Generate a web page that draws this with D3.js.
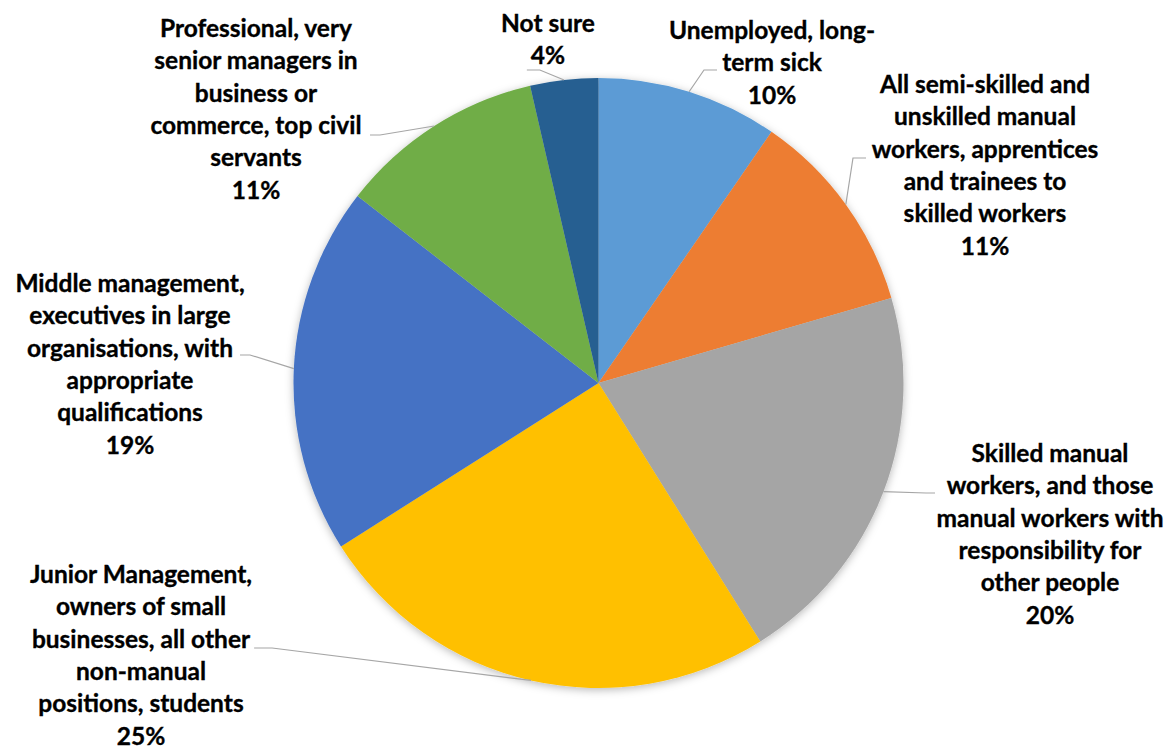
<!DOCTYPE html>
<html>
<head>
<meta charset="utf-8">
<script src="https://cdn.jsdelivr.net/npm/d3@7"></script>
<style>
  html, body { margin: 0; padding: 0; background: #fff; }
  svg { display: block; }
  .lbl { font-family: Lato, "Open Sans", sans-serif; font-weight: bold; fill: #000; stroke: #000; stroke-width: 0.35px; }
</style>
</head>
<body>
<script>
var width = 1175;
var height = 749;

// slices, clockwise from 12 o'clock
var categories = [
  ['Unemployed, long-', 'term sick'],
  ['All semi-skilled and', 'unskilled manual', 'workers, apprentices', 'and trainees to', 'skilled workers'],
  ['Skilled manual', 'workers, and those', 'manual workers with', 'responsibility for', 'other people'],
  ['Junior Management,', 'owners of small', 'businesses, all other', 'non-manual', 'positions, students'],
  ['Middle management,', 'executives in large', 'organisations, with', 'appropriate', 'qualifications'],
  ['Professional, very', 'senior managers in', 'business or', 'commerce, top civil', 'servants'],
  ['Not sure']
];
var values = [9.6, 10.9, 20.6, 24.9, 19.5, 10.9, 3.6];
var percentLabels = ['10%', '11%', '20%', '25%', '19%', '11%', '4%'];
var colors = ['#5B9BD5', '#ED7D31', '#A5A5A5', '#FFC000', '#4472C4', '#70AD47', '#255E91'];

// label placement: centre x, first baseline, leader end [x, y], elbow x, line the leader meets
var labelLayout = [
  {x: 772, y: 39,  end: [717, 70],  elbow: 704, line: 1},
  {x: 985, y: 93,  end: [866, 158], elbow: 853, line: 2},
  {x: 1050, y: 462, end: [935, 493], elbow: 926, line: 1},
  {x: 141, y: 583, end: [252, 648], elbow: 270, line: 2},
  {x: 130, y: 292, end: [240, 355], elbow: 250, line: 2},
  {x: 256, y: 37,  end: [370, 135], elbow: 380, line: 3},
  {x: 548, y: 32,  end: [534, 70],  elbow: 547, line: 1}
];

var cx = 598.5, cy = 383, radius = 305;
var lineGap = 32.3;

var svg = d3.select('body').append('svg')
            .attr('width', width)
            .attr('height', height);

var defs = svg.append('defs');
var f = defs.append('filter').attr('id', 'shadow')
            .attr('x', '-10%').attr('y', '-10%')
            .attr('width', '120%').attr('height', '120%');
f.append('feDropShadow')
 .attr('dx', 0).attr('dy', 2)
 .attr('stdDeviation', 4)
 .attr('flood-color', '#000')
 .attr('flood-opacity', 0.28);

var pie = d3.pie().sort(null).value(d => d);
var arcs = pie(values);
var arc = d3.arc().innerRadius(0).outerRadius(radius);

var g = svg.append('g').attr('transform', `translate(${cx},${cy})`);

g.append('g').attr('filter', 'url(#shadow)')
 .selectAll('path').data(arcs)
 .enter().append('path')
   .attr('d', arc)
   .attr('fill', (d, i) => colors[i]);

var leaders = svg.append('g').attr('class', 'leaders');
var labels = svg.append('g');

arcs.forEach(function(d, i) {
  var L = labelLayout[i];
  var lines = categories[i].concat([percentLabels[i]]);
  var t = labels.append('text')
    .attr('class', 'lbl')
    .attr('text-anchor', 'middle')
    .attr('font-size', 24.5);
  var spans = [];
  lines.forEach(function(s, k) {
    spans.push(t.append('tspan')
     .attr('x', L.x)
     .attr('y', L.y + k * lineGap)
     .text(s));
  });

  // keep the leader clear of the text line it points at
  var w = spans[L.line].node().getComputedTextLength();
  var ex = L.end[0];
  var ox = L.elbow;
  if (ex < L.x) {            // label on the right of the leader
    var lim = L.x - w / 2 - 4;
    if (ex > lim) { ox -= ex - lim; ex = lim; }
  } else {
    var lim2 = L.x + w / 2 + 4;
    if (ex < lim2) { ox += lim2 - ex; ex = lim2; }
  }

  // leader from the arc mid-point out to the label
  var mid = (d.startAngle + d.endAngle) / 2;
  var px = cx + radius * Math.sin(mid);
  var py = cy - radius * Math.cos(mid);
  leaders.append('polyline')
    .attr('points', [[px, py], [ox, L.end[1]], [ex, L.end[1]]].map(p => p.join(',')).join(' '))
    .attr('fill', 'none')
    .attr('stroke', '#A6A6A6')
    .attr('stroke-width', 1.2);
});
</script>
</body>
</html>
